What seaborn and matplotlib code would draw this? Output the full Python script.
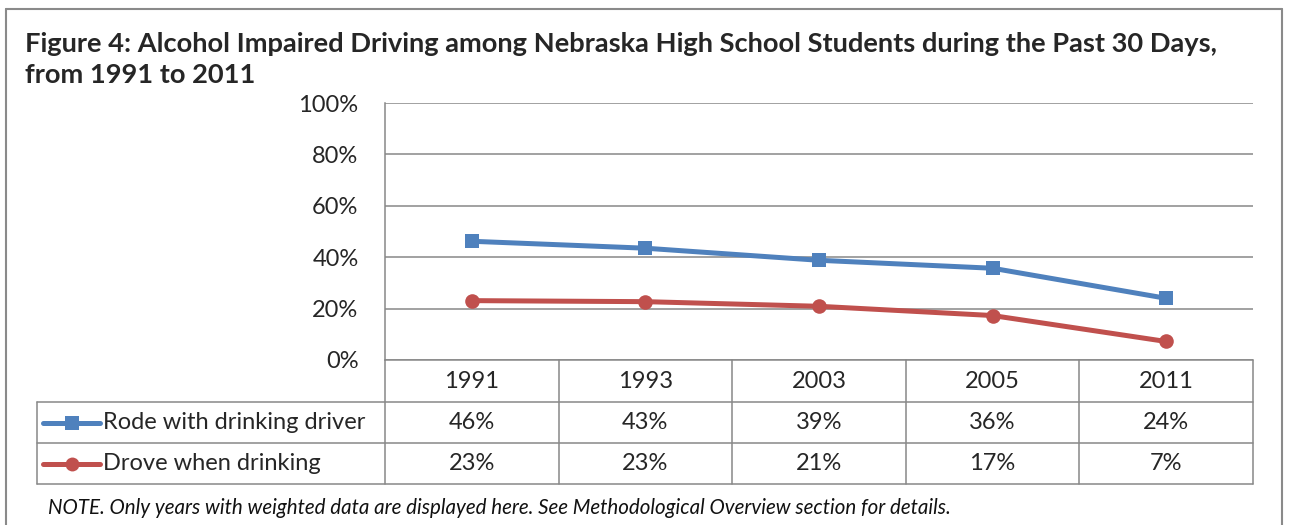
import numpy as np
import pandas as pd
import matplotlib
matplotlib.use('Agg')
import matplotlib.pyplot as plt
from matplotlib.lines import Line2D
import seaborn as sns

years = ['1991', '1993', '2003', '2005', '2011']
rode = [46.2, 43.5, 38.8, 35.7, 24.0]
drove = [23.1, 22.7, 20.9, 17.3, 7.2]
rode_labels = ['46%', '43%', '39%', '36%', '24%']
drove_labels = ['23%', '23%', '21%', '17%', '7%']
series_names = ['Rode with drinking driver', 'Drove when drinking']
yticks = [0, 20, 40, 60, 80, 100]

sns.set_style('white')
plt.rcParams['font.family'] = ['Lato', 'DejaVu Sans']

W, H = 1289, 525
fig = plt.figure(figsize=(W / 100, H / 100), dpi=100)
fig.patch.set_facecolor('white')

BLUE = '#4F81BD'
RED = '#C0504D'
GRID = '#888888'
FS = 17


def fx(x):
    return x / W


def fy(y):
    return 1 - y / H


def hline(x0, x1, y, color=GRID, lw=1.1):
    fig.add_artist(Line2D([fx(x0), fx(x1)], [fy(y), fy(y)], color=color, lw=lw))


def vline(x, y0, y1, color=GRID, lw=1.1):
    fig.add_artist(Line2D([fx(x), fx(x)], [fy(y0), fy(y1)], color=color, lw=lw))


# plot area
L, R, T, B = 385, 1253, 103, 360
ax = fig.add_axes([fx(L), fy(B), fx(R) - fx(L), fy(T) - fy(B)])

df = pd.DataFrame({'pos': np.arange(len(years)), 'rode': rode, 'drove': drove})
sns.lineplot(data=df, x='pos', y='rode', ax=ax, color=BLUE, lw=3.6,
             marker='s', markersize=10, markeredgewidth=0, zorder=3)
sns.lineplot(data=df, x='pos', y='drove', ax=ax, color=RED, lw=3.6,
             marker='o', markersize=10.5, markeredgewidth=0, zorder=3)

ax.set_xlim(-0.5, len(years) - 0.5)
ax.set_ylim(0, 100)
ax.set_yticks(yticks)
ax.set_yticklabels([f'{t}%' for t in yticks], fontsize=FS)
ax.set_xticks([])
ax.set_xlabel('')
ax.set_ylabel('')
ax.grid(axis='y', color=GRID, lw=1.1)
ax.tick_params(axis='y', length=0, pad=19)
for s in ['top', 'right', 'bottom']:
    ax.spines[s].set_visible(False)
ax.spines['left'].set_color(GRID)
ax.spines['left'].set_linewidth(1.1)

# data table
col_w = (R - L) / len(years)
rows = [360, 402, 443, 484]
TL = 37
hline(L, R, rows[0])
hline(TL, R, rows[1])
hline(TL, R, rows[2])
hline(TL, R, rows[3])
vline(L, rows[0], rows[3])
vline(TL, rows[1], rows[3])
for i in range(1, len(years) + 1):
    vline(L + i * col_w, rows[0], rows[3])

for i, yr in enumerate(years):
    cx = L + (i + 0.5) * col_w
    fig.text(fx(cx), fy((rows[0] + rows[1]) / 2), yr, ha='center', va='center', fontsize=FS)
    fig.text(fx(cx), fy((rows[1] + rows[2]) / 2), rode_labels[i], ha='center', va='center', fontsize=FS)
    fig.text(fx(cx), fy((rows[2] + rows[3]) / 2), drove_labels[i], ha='center', va='center', fontsize=FS)

for j, (name, col, mk) in enumerate(zip(series_names, [BLUE, RED], ['s', 'o'])):
    yc = fy((rows[j + 1] + rows[j + 2]) / 2)
    fig.add_artist(Line2D([fx(43), fx(100)], [yc, yc], color=col, lw=3.6, solid_capstyle='round'))
    fig.add_artist(Line2D([fx(72)], [yc], color=col, marker=mk, markersize=10, markeredgewidth=0))
    fig.text(fx(103), yc, name, ha='left', va='center', fontsize=FS)

# title and note
fig.text(fx(25), fy(44), 'Figure 4: Alcohol Impaired Driving among Nebraska High School Students during the Past 30 Days,',
         ha='left', va='center', fontsize=19.6, fontweight='bold')
fig.text(fx(25), fy(75), 'from 1991 to 2011', ha='left', va='center', fontsize=19.6, fontweight='bold')
fig.text(fx(48), fy(508), 'NOTE. Only years with weighted data are displayed here. See Methodological Overview section for details.',
         ha='left', va='center', fontsize=14.8, style='italic', color='#111111')

# outer border
hline(6, 1282, 9, color='#8a8a8a', lw=1.5)
vline(6, 9, 525, color='#8a8a8a', lw=1.5)
vline(1282, 9, 525, color='#8a8a8a', lw=1.5)

fig.savefig('out.png', dpi=100)
